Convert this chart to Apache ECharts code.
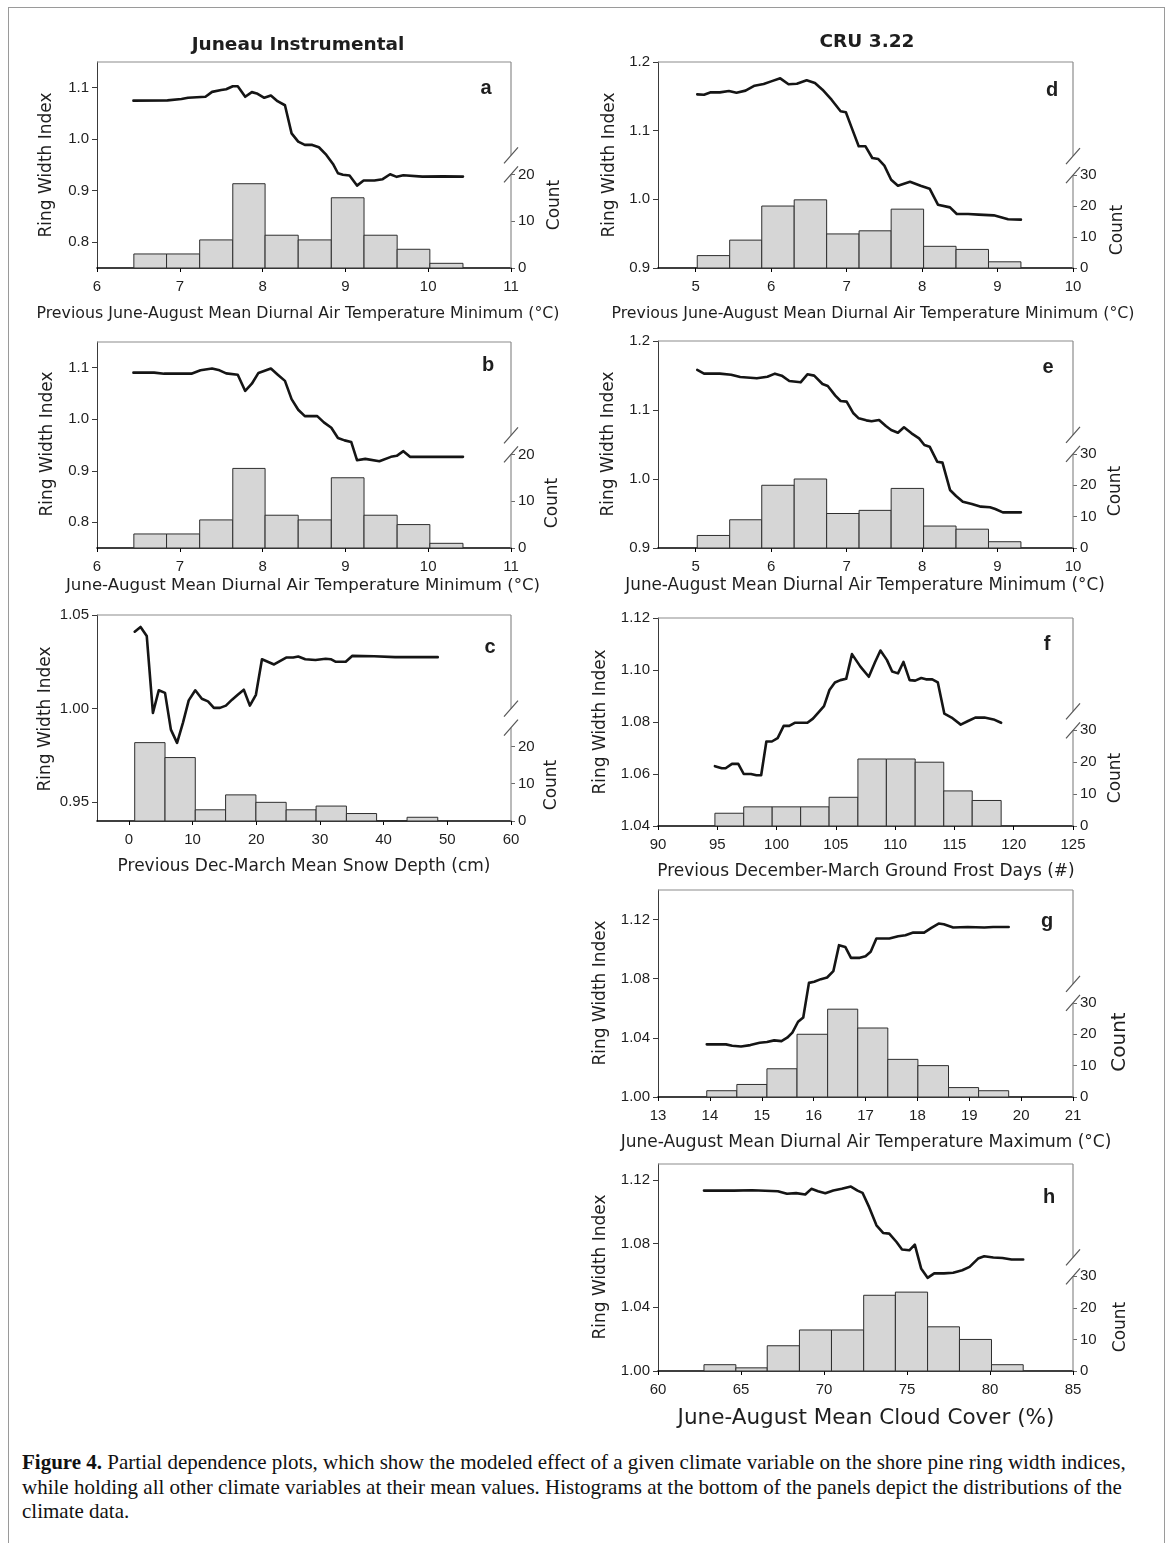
<!DOCTYPE html>
<html><head><meta charset="utf-8">
<script src="https://cdn.jsdelivr.net/npm/echarts@6/dist/echarts.min.js"></script>
<style>
html,body{margin:0;padding:0;background:#fff;}
#frame{position:absolute;left:8px;top:7px;width:1155px;height:1600px;border:1px solid #9a9a9a;}
#chart{position:absolute;left:0;top:0;width:1171px;height:1440px;}
#caption{position:absolute;left:22px;top:1450px;font-family:"Liberation Serif",serif;font-size:21px;line-height:24.5px;color:#111;white-space:nowrap;}
</style></head><body>
<div id="frame"></div>
<div id="chart"></div>
<div id="caption"><b>Figure 4.</b> Partial dependence plots, which show the modeled effect of a given climate variable on the shore pine ring width indices,<br>while holding all other climate variables at their mean values. Histograms at the bottom of the panels depict the distributions of the<br>climate data.</div>
<script>
// ---------- DATA ----------
const a_line = [[6.44,1.075],[6.85,1.0755],[7.02,1.078],[7.10,1.0805],[7.31,1.0825],[7.39,1.092],[7.50,1.0955],[7.56,1.097],[7.64,1.103],[7.70,1.103],[7.79,1.0825],[7.87,1.0915],[7.93,1.089],[8.02,1.0805],[8.10,1.085],[8.18,1.074],[8.27,1.066],[8.35,1.0115],[8.43,0.9955],[8.51,0.989],[8.60,0.989],[8.68,0.9845],[8.77,0.9695],[8.85,0.952],[8.91,0.934],[8.97,0.931],[9.05,0.9295],[9.14,0.910],[9.22,0.920],[9.35,0.920],[9.45,0.9225],[9.54,0.932],[9.62,0.927],[9.70,0.930],[9.93,0.9275],[10.18,0.928],[10.42,0.9275]];
const a_edges = [6.445,6.84,7.24,7.64,8.03,8.43,8.83,9.225,9.625,10.02,10.42];
const a_counts = [3,3,6,18,7,6,15,7,4,1];

const b_line = [[6.44,1.0905],[6.69,1.0905],[6.81,1.0885],[7.14,1.0885],[7.25,1.095],[7.39,1.0985],[7.48,1.095],[7.56,1.089],[7.70,1.0865],[7.79,1.055],[7.87,1.069],[7.95,1.090],[8.10,1.0985],[8.18,1.087],[8.27,1.0745],[8.35,1.039],[8.43,1.0185],[8.51,1.006],[8.66,1.006],[8.74,0.994],[8.83,0.9835],[8.91,0.9635],[8.99,0.959],[9.07,0.956],[9.14,0.9205],[9.24,0.923],[9.41,0.9185],[9.55,0.927],[9.62,0.929],[9.70,0.938],[9.78,0.927],[9.97,0.927],[10.42,0.927]];
const b_edges = [6.445,6.84,7.24,7.64,8.03,8.43,8.83,9.225,9.625,10.02,10.42];
const b_counts = [3,3,6,17,7,6,15,7,5,1];

const c_line = [[0.92,1.0411],[1.84,1.0436],[2.81,1.0388],[3.78,0.9977],[4.70,1.0098],[5.68,1.0084],[6.60,0.9888],[7.57,0.9817],[8.49,0.9924],[9.40,1.0044],[10.43,1.0098],[11.46,1.0053],[12.43,1.0039],[13.35,1.0004],[14.30,1.0004],[15.24,1.0016],[16.20,1.0048],[17.10,1.0074],[18.05,1.0101],[19.00,1.0016],[19.95,1.0074],[20.90,1.0264],[22.80,1.0236],[24.70,1.0273],[25.80,1.0273],[26.60,1.0278],[27.70,1.0264],[29.30,1.026],[30.90,1.0266],[31.70,1.0264],[32.50,1.025],[34.05,1.025],[35.10,1.0282],[38.50,1.028],[41.80,1.0275],[48.50,1.0275]];
const c_edges = [0.92,5.68,10.43,15.19,19.95,24.7,29.4,34.16,38.9,43.68,48.5];
const c_counts = [21,17,3,7,5,3,4,2,0,1];

const d_line = [[5.02,1.1529],[5.11,1.1524],[5.20,1.1558],[5.32,1.1558],[5.44,1.1578],[5.54,1.1553],[5.66,1.1583],[5.78,1.1655],[5.90,1.168],[6.00,1.1718],[6.12,1.1762],[6.23,1.1675],[6.34,1.1684],[6.47,1.1733],[6.58,1.1694],[6.68,1.1597],[6.80,1.1451],[6.92,1.1282],[6.99,1.1267],[7.06,1.1063],[7.16,1.0772],[7.25,1.0772],[7.34,1.0602],[7.42,1.0587],[7.50,1.049],[7.59,1.0286],[7.68,1.0199],[7.84,1.0257],[7.98,1.0199],[8.10,1.0155],[8.21,0.9922],[8.37,0.9883],[8.46,0.9786],[8.61,0.9786],[8.75,0.9777],[8.95,0.9767],[9.14,0.9709],[9.31,0.9704]];
const d_edges = [5.02,5.45,5.875,6.305,6.735,7.165,7.59,8.02,8.45,8.88,9.31];
const d_counts = [4,9,20,22,11,12,19,7,6,2];

const e_line = [[5.02,1.158],[5.11,1.1527],[5.32,1.1527],[5.47,1.1512],[5.59,1.1478],[5.81,1.1459],[5.95,1.1483],[6.05,1.1527],[6.14,1.1498],[6.24,1.142],[6.39,1.1401],[6.48,1.1517],[6.57,1.1498],[6.68,1.1377],[6.75,1.1348],[6.85,1.1208],[6.92,1.113],[7.00,1.1121],[7.09,1.0952],[7.16,1.0879],[7.26,1.085],[7.33,1.0836],[7.43,1.0855],[7.52,1.0768],[7.59,1.071],[7.68,1.0671],[7.76,1.0749],[7.86,1.0662],[7.96,1.0589],[8.03,1.0493],[8.10,1.0469],[8.20,1.0251],[8.27,1.0237],[8.37,0.9841],[8.45,0.9754],[8.54,0.9671],[8.66,0.9638],[8.78,0.9599],[8.90,0.959],[8.97,0.9565],[9.07,0.9517],[9.31,0.9517]];
const e_edges = [5.02,5.45,5.875,6.305,6.735,7.165,7.59,8.02,8.45,8.88,9.31];
const e_counts = [4,9,20,22,11,12,19,7,6,2];

const f_line = [[94.8,1.063],[95.38,1.0622],[95.7,1.0622],[96.24,1.0639],[96.77,1.0639],[97.23,1.060],[97.84,1.060],[98.3,1.0595],[98.7,1.0595],[99.14,1.0725],[99.6,1.0725],[100.09,1.0738],[100.6,1.0785],[101.07,1.0785],[101.53,1.0797],[102.6,1.0797],[103.07,1.0813],[103.5,1.0835],[104.0,1.0861],[104.46,1.0923],[104.92,1.0952],[105.38,1.0961],[105.87,1.0966],[106.36,1.1061],[107.07,1.1013],[107.78,1.0974],[108.3,1.103],[108.76,1.1075],[109.3,1.1039],[109.75,1.0994],[110.24,1.0987],[110.7,1.1031],[111.22,1.0961],[111.69,1.0959],[112.2,1.0969],[112.6,1.0964],[113.13,1.0964],[113.6,1.0952],[114.15,1.0832],[114.76,1.0817],[115.53,1.079],[116.15,1.0804],[116.76,1.0817],[117.53,1.0817],[118.3,1.081],[118.94,1.0797]];
const f_edges = [94.8,97.23,99.63,102.03,104.43,106.86,109.26,111.69,114.1,116.5,118.94];
const f_counts = [4,6,6,6,9,21,21,20,11,8];

const g_line = [[13.94,1.0356],[14.31,1.0356],[14.43,1.0347],[14.6,1.0342],[14.78,1.0351],[14.96,1.0367],[15.1,1.0372],[15.24,1.0383],[15.38,1.0378],[15.49,1.0401],[15.59,1.0435],[15.7,1.0509],[15.8,1.0538],[15.91,1.0772],[16.01,1.0779],[16.14,1.0797],[16.26,1.0808],[16.38,1.0851],[16.49,1.1027],[16.61,1.1015],[16.72,1.0941],[16.89,1.0941],[17.0,1.0952],[17.1,1.0982],[17.21,1.1072],[17.46,1.1072],[17.63,1.1087],[17.77,1.1094],[17.92,1.1112],[18.13,1.1112],[18.27,1.1144],[18.41,1.1173],[18.51,1.1168],[18.69,1.1146],[18.97,1.115],[19.29,1.1146],[19.46,1.115],[19.76,1.115]];
const g_edges = [13.94,14.52,15.10,15.68,16.27,16.85,17.43,18.01,18.6,19.18,19.76];
const g_counts = [2,4,9,20,28,22,12,10,3,2];

const h_line = [[62.77,1.1133],[64.58,1.1133],[65.68,1.1135],[67.22,1.1129],[67.77,1.1113],[68.32,1.1117],[68.87,1.1108],[69.24,1.1144],[69.64,1.1129],[70.08,1.1117],[70.56,1.1133],[71.07,1.1144],[71.62,1.1158],[72.02,1.1133],[72.32,1.1119],[72.72,1.1029],[73.16,1.0915],[73.56,1.0867],[73.93,1.0863],[74.37,1.081],[74.7,1.0763],[75.14,1.0758],[75.47,1.0794],[75.85,1.0644],[76.24,1.0585],[76.64,1.0613],[77.23,1.0613],[77.78,1.0617],[78.33,1.0633],[78.77,1.0654],[79.28,1.0706],[79.65,1.0721],[80.2,1.0713],[80.75,1.071],[81.3,1.07],[82.0,1.07]];
const h_edges = [62.77,64.69,66.58,68.52,70.45,72.39,74.3,76.24,78.16,80.09,82.0];
const h_counts = [2,1,8,13,13,24,25,14,10,2];

// tick label values
const ticks_x_ab = [6,7,8,9,10,11];
const ticks_x_c = [0,10,20,30,40,50,60];
const ticks_x_de = [5,6,7,8,9,10];
const ticks_x_f = [90,95,100,105,110,115,120,125];
const ticks_x_g = [13,14,15,16,17,18,19,20,21];
const ticks_x_h = [60,65,70,75,80,85];
const ticks_y_ab = [0.8,0.9,1.0,1.1];
const ticks_y_c = [0.95,1.00,1.05];
const ticks_y_de = [0.9,1.0,1.1,1.2];
const ticks_y_f = [1.04,1.06,1.08,1.10,1.12];
const ticks_y_gh = [1.00,1.04,1.08,1.12];
const ticks_c_left = [0,10,20];
const ticks_c_right = [0,10,20,30];

const xTitles = {
  a:'Previous June-August Mean Diurnal Air Temperature Minimum (°C)',
  b:'June-August Mean Diurnal Air Temperature Minimum (°C)',
  c:'Previous Dec-March Mean Snow Depth (cm)',
  d:'Previous June-August Mean Diurnal Air Temperature Minimum (°C)',
  e:'June-August Mean Diurnal Air Temperature Minimum (°C)',
  f:'Previous December-March Ground Frost Days (#)',
  g:'June-August Mean Diurnal Air Temperature Maximum (°C)',
  h:'June-August Mean Cloud Cover (%)'
};

// ---------- LAYOUT ----------
const P = [
 {k:'a', line:a_line, edges:a_edges, counts:a_counts, left:97, top:62, w:414, h:206, xMin:6, xMax:11, xT:ticks_x_ab, yMin:0.75, yMax:1.15, yT:ticks_y_ab, dec:1, cMax:44, cT:ticks_c_left, brk:20,
  xt:[298,314,15.8], rw:[47,165], ct:[555,205,17], lab:[486,88]},
 {k:'b', line:b_line, edges:b_edges, counts:b_counts, left:97, top:342, w:414, h:206, xMin:6, xMax:11, xT:ticks_x_ab, yMin:0.75, yMax:1.15, yT:ticks_y_ab, dec:1, cMax:44, cT:ticks_c_left, brk:20,
  xt:[303,586,16.6], rw:[48,444], ct:[553,503,17], lab:[488,365]},
 {k:'c', line:c_line, edges:c_edges, counts:c_counts, left:97, top:615, w:414, h:206, xMin:-5, xMax:60, xT:ticks_x_c, yMin:0.94, yMax:1.05, yT:ticks_y_c, dec:2, cMax:55.2, cT:ticks_c_left, brk:25,
  xt:[304,867,17], rw:[46,719], ct:[552,785,17], lab:[490,647]},
 {k:'d', line:d_line, edges:d_edges, counts:d_counts, left:658, top:62, w:415, h:206, xMin:4.5, xMax:10, xT:ticks_x_de, yMin:0.9, yMax:1.2, yT:ticks_y_de, dec:1, cMax:66.5, cT:ticks_c_right, brk:30,
  xt:[873,314,15.8], rw:[610,165], ct:[1118,230,17], lab:[1052,90]},
 {k:'e', line:e_line, edges:e_edges, counts:e_counts, left:658, top:341, w:415, h:207, xMin:4.5, xMax:10, xT:ticks_x_de, yMin:0.9, yMax:1.2, yT:ticks_y_de, dec:1, cMax:66, cT:ticks_c_right, brk:30,
  xt:[865,586,16.8], rw:[609,444], ct:[1116,491,17], lab:[1048,367]},
 {k:'f', line:f_line, edges:f_edges, counts:f_counts, left:658, top:618, w:415, h:208, xMin:90, xMax:125, xT:ticks_x_f, yMin:1.04, yMax:1.12, yT:ticks_y_f, dec:2, cMax:65.2, cT:ticks_c_right, brk:30,
  xt:[866,872,17], rw:[601,722], ct:[1116,778,17], lab:[1047,644]},
 {k:'g', line:g_line, edges:g_edges, counts:g_counts, left:658, top:890, w:415, h:207, xMin:13, xMax:21, xT:ticks_x_g, yMin:1.00, yMax:1.14, yT:ticks_y_gh, dec:2, cMax:66, cT:ticks_c_right, brk:30,
  xt:[866,1143,17], rw:[601,993], ct:[1120,1042,20], lab:[1047,921]},
 {k:'h', line:h_line, edges:h_edges, counts:h_counts, left:658, top:1164, w:415, h:207, xMin:60, xMax:85, xT:ticks_x_h, yMin:1.00, yMax:1.13, yT:ticks_y_gh, dec:2, cMax:65.6, cT:ticks_c_right, brk:30,
  xt:[866,1418,21.5], rw:[601,1267], ct:[1121,1327,17], lab:[1049,1197]}
];

const TICKFONT = '"Liberation Sans", Arial, sans-serif';
const NAMEFONT = '"DejaVu Sans", sans-serif';
const TXT = '#1e1e1e';

const chart = echarts.init(document.getElementById('chart'), null, {renderer:'canvas'});

function histItem(params, api){
  const x0 = api.value(0), x1 = api.value(1), c = api.value(2);
  const p0 = api.coord([x0, 0]);
  const p1 = api.coord([x1, c]);
  return {type:'rect', shape:{x:p0[0], y:p1[1], width:p1[0]-p0[0], height:p0[1]-p1[1]},
          style:{fill:'#d6d6d6', stroke:'#2e2e2e', lineWidth:1}};
}

const grid=[], xAxis=[], yAxis=[], series=[];
P.forEach((p,i)=>{
  grid.push({left:p.left, top:p.top, width:p.w, height:p.h, containLabel:false});
  xAxis.push({gridIndex:i, type:'value', min:p.xMin, max:p.xMax,
    axisLine:{show:true, onZero:false, lineStyle:{color:'#000', width:1.6}},
    axisTick:{show:true, length:4, customValues:p.xT, lineStyle:{color:'#000', width:1}},
    axisLabel:{customValues:p.xT, margin:11, fontSize:15, fontFamily:TICKFONT, color:TXT},
    splitLine:{show:false}});
  yAxis.push({gridIndex:i, type:'value', position:'left', min:p.yMin, max:p.yMax,
    axisLine:{show:true, onZero:false, lineStyle:{color:'#3a3a3a', width:1}},
    axisTick:{show:true, length:5, customValues:p.yT, lineStyle:{color:'#3a3a3a'}},
    axisLabel:{customValues:p.yT, margin:8, fontSize:15, fontFamily:TICKFONT, color:TXT, formatter:v=>Number(v).toFixed(p.dec)},
    splitLine:{show:false}});
  yAxis.push({gridIndex:i, type:'value', position:'right', min:0, max:p.cMax,
    axisLine:{show:false, onZero:false},
    axisTick:{show:true, length:4, customValues:p.cT, lineStyle:{color:'#6a6a6a'}},
    axisLabel:{customValues:p.cT, margin:7, fontSize:15, fontFamily:TICKFONT, color:TXT},
    splitLine:{show:false}});
  const hist = p.counts.map((c,j)=>[p.edges[j], p.edges[j+1], c]);
  series.push({type:'custom', xAxisIndex:i, yAxisIndex:2*i+1, renderItem:histItem, data:hist,
    encode:{x:[0,1], y:2}, z:2, silent:true});
  series.push({type:'line', xAxisIndex:i, yAxisIndex:2*i, data:p.line, symbol:'none', smooth:false,
    lineStyle:{color:'#151515', width:2.6, join:'round', cap:'round'}, z:3, silent:true});
});

chart.setOption({animation:false, grid, xAxis, yAxis, series});

// decorations: frame lines, axis break, text
const G = [];
function seg(x1,y1,x2,y2,color,w){ return {type:'line', shape:{x1,y1,x2,y2}, style:{stroke:color, lineWidth:w}, z:10}; }
function txt(x,y,text,font,rot){ return {type:'text', x, y, rotation:rot||0, style:{text, font, fill:TXT, align:'center', verticalAlign:'middle'}, z:10}; }
P.forEach((p,i)=>{
  const R = p.left + p.w, T = p.top, B = p.top + p.h;
  const yLow = chart.convertToPixel({yAxisIndex:2*i+1}, p.brk);
  const yUp = yLow - 19;
  G.push(seg(p.left, T, R, T, '#8c8c8c', 1.2));
  G.push(seg(R, T, R, yUp, '#8c8c8c', 1.2));
  G.push(seg(R, yLow, R, B, '#8c8c8c', 1.2));
  G.push(seg(R-7, yUp+8, R+7, yUp-8, '#555', 1.2));
  G.push(seg(R-7, yLow+8, R+7, yLow-8, '#555', 1.2));
  G.push(txt(p.xt[0], p.xt[1], xTitles[p.k], p.xt[2]+'px '+NAMEFONT, 0));
  G.push(txt(p.rw[0], p.rw[1], 'Ring Width Index', '17px '+NAMEFONT, Math.PI/2));
  G.push(txt(p.ct[0], p.ct[1], 'Count', p.ct[2]+'px '+NAMEFONT, Math.PI/2));
  G.push(txt(p.lab[0], p.lab[1], p.k, 'bold 20px '+TICKFONT, 0));
});
G.push(txt(298, 45, 'Juneau Instrumental', 'bold 18.5px '+NAMEFONT, 0));
G.push(txt(867, 42, 'CRU 3.22', 'bold 18.5px '+NAMEFONT, 0));
chart.setOption({graphic:{elements:G}});
</script>
</body></html>
